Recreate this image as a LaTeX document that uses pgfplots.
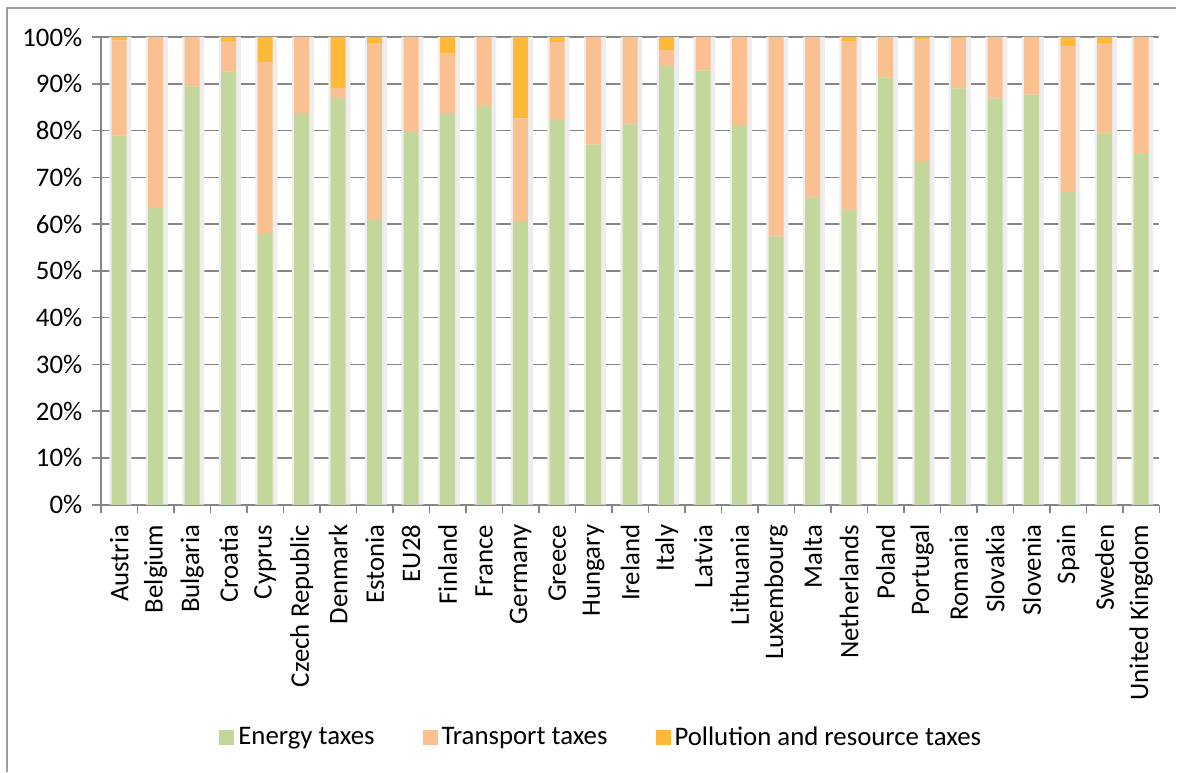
\documentclass[border=0pt]{standalone}
\usepackage{pgfplots}
\pgfplotsset{compat=1.18}
\usepackage{pgfplotstable}
\usepackage{fontspec}
\setmainfont{Carlito}
\definecolor{cEnergy}{HTML}{C3D69B}
\definecolor{cTrans}{HTML}{FAC090}
\definecolor{cPoll}{HTML}{FFB937}
\definecolor{cGrid}{HTML}{868686}
\pgfplotstableread[col sep=comma]{
idx,energy,transport,pollution,total
0,78.9,20.4,0.7,100
1,63.6,36.4,0,100
2,89.4,10.6,0,100
3,92.6,6.5,0.9,100
4,58.1,36.5,5.4,100
5,83.7,16.3,0,100
6,87.0,2.1,10.9,100
7,60.9,37.8,1.3,100
8,79.9,20.1,0,100
9,83.7,12.8,3.5,100
10,85.2,14.8,0,100
11,60.4,22.2,17.4,100
12,82.2,16.7,1.1,100
13,77.0,23.0,0,100
14,81.3,18.7,0,100
15,93.8,3.4,2.8,100
16,92.8,7.2,0,100
17,81.2,18.8,0,100
18,57.3,42.7,0,100
19,65.7,34.3,0,100
20,63.0,36.0,1.0,100
21,91.3,8.7,0,100
22,73.5,26.0,0.5,100
23,89.0,10.65,0.35,100
24,86.9,13.1,0,100
25,87.7,12.3,0,100
26,66.9,31.2,1.9,100
27,79.4,19.2,1.4,100
28,75.0,25.0,0,100
}\datatable
\begin{document}
\begin{tikzpicture}[x=1pt,y=1pt]
\path (0,0) rectangle (588.5,386);
\draw[cGrid!80,line width=0.6pt] (3.5,0) -- (3.5,382) -- (588.5,382);
\pgfplotsset{
  base/.style={
    at={(50.5pt,133.5pt)}, anchor=south west,
    scale only axis, width=529.5pt, height=234pt,
    xmin=-0.5, xmax=28.5, ymin=0, ymax=100,
    bar width=7.5pt,
  }
}
\begin{axis}[base,
  axis x line*=bottom, axis y line*=left,
  axis line style={cGrid, line width=0.8pt},
  ytick={0,10,...,100},
  yticklabel={\pgfmathprintnumber{\tick}\%},
  /pgf/number format/assume math mode=true,
  ymajorgrids, grid style={cGrid, line width=0.8pt},
  ytick style={cGrid, line width=0.8pt},
  tick align=outside, major tick length=4.3pt,
  xtick={0,...,28},
  every major x tick/.append style={draw=none},
  xticklabels={Austria,Belgium,Bulgaria,Croatia,Cyprus,Czech Republic,Denmark,Estonia,EU28,Finland,France,Germany,Greece,Hungary,Ireland,Italy,Latvia,Lithuania,Luxembourg,Malta,Netherlands,Poland,Portugal,Romania,Slovakia,Slovenia,Spain,Sweden,United Kingdom},
  x tick label style={rotate=90, anchor=east, font=\fontsize{13.4}{15}\selectfont, inner sep=5.5pt},
  y tick label style={font=\fontsize{13.4}{15}\selectfont},
  yticklabel style={xshift=-1.5pt},
  minor xtick={-0.5,0.5,...,28.5},
  every minor x tick/.append style={draw=cGrid, line width=0.8pt},
  minor tick length=4.3pt,
  clip=false,
]
\addplot[ybar, bar width=11pt, fill=black!7, draw=none, bar shift=0.6pt] table[x=idx,y=total]{\datatable};
\end{axis}
\begin{axis}[base,
  hide axis,
  ybar stacked,
  legend style={at={(0.4736,-0.498)}, anchor=center, draw=none, legend columns=3,
    font=\fontsize{13.4}{15}\selectfont,
    /tikz/every even column/.append style={column sep=22pt}},
  legend image code/.code={\draw[#1, draw=none] (0pt,-3.75pt) rectangle (7.5pt,3.75pt);},
]
\addplot[fill=cEnergy, draw=none] table[x=idx,y=energy]{\datatable};
\addplot[fill=cTrans, draw=none] table[x=idx,y=transport]{\datatable};
\addplot[fill=cPoll, draw=none] table[x=idx,y=pollution]{\datatable};
\legend{Energy taxes,Transport taxes,Pollution and resource taxes}
\end{axis}
\end{tikzpicture}
\end{document}
